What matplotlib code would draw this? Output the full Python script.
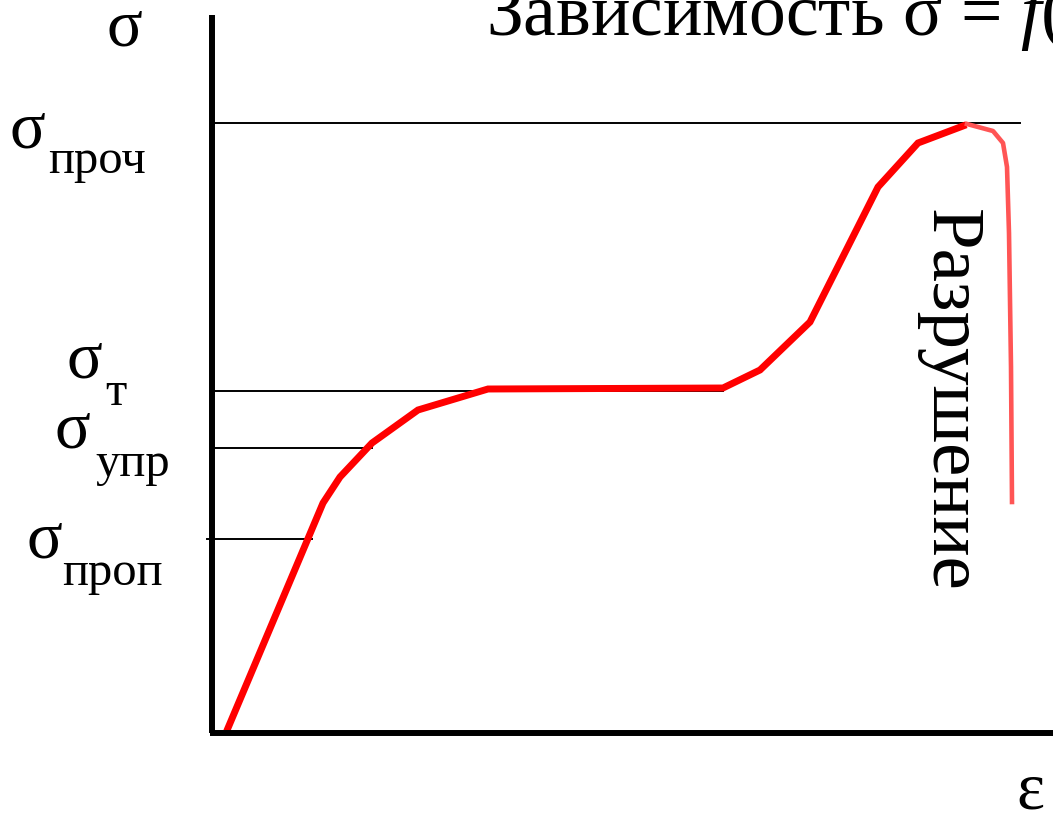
import matplotlib
matplotlib.use("Agg")
import matplotlib.pyplot as plt

# кривая растяжения (ε, σ) в условных единицах
eps = [16, 111, 128, 160, 206, 276, 511, 548, 598, 666, 706, 751]
sig = [5, 230, 256, 290, 323, 344, 345, 363, 411, 546, 590, 607]

# участок разрушения
eps_raz = [755, 781, 791, 795, 797, 799, 800]
sig_raz = [609, 602, 590, 566, 500, 366, 231]

# характерные напряжения и длины линий-выносок
urovni = [610, 342, 285, 194]
konec = [808, 511, 160, 100]
nachalo = [0, 0, 0, -5]

plt.rcParams['font.family'] = ['Liberation Serif', 'DejaVu Serif']
plt.rcParams['mathtext.fontset'] = 'custom'
plt.rcParams['mathtext.rm'] = 'Liberation Serif'
plt.rcParams['mathtext.it'] = 'Liberation Serif:italic'

fig = plt.figure(figsize=(10.53, 8.18), dpi=100)
ax = fig.add_axes([0, 0, 1, 1])
ax.set_xlim(-212, 841)
ax.set_ylim(-85, 733)

for s, x0, x1 in zip(urovni, nachalo, konec):
    ax.plot([x0, x1], [s, s], color='black', lw=1.4, zorder=1)

ax.plot(eps, sig, color='#ff0000', lw=5, solid_joinstyle='miter', zorder=3)
ax.plot(eps_raz, sig_raz, color='#ff5555', lw=3.3, zorder=3)

# оси
ax.plot([0, 0], [718, 0], color='black', lw=4.3, solid_capstyle='butt', zorder=4)
ax.plot([-2, 841], [0, 0], color='black', lw=4.3, solid_capstyle='butt', zorder=4)

for sp in ax.spines.values():
    sp.set_visible(False)
ax.set_xticks([])
ax.set_yticks([])

big = 48
small = 35
ax.text(-106, 688, 'σ', fontsize=big, ha='left', va='baseline')
ax.text(274, 698, 'Зависимость σ = $f$(ε)', fontsize=53, ha='left', va='baseline')

ax.text(-203, 586, 'σ', fontsize=big, ha='left', va='baseline')
ax.text(-164, 560, 'проч', fontsize=small, ha='left', va='baseline')

ax.text(-146, 356, 'σ', fontsize=big, ha='left', va='baseline')
ax.text(-107, 328, 'т', fontsize=small, ha='left', va='baseline')

ax.text(-158, 286, 'σ', fontsize=big, ha='left', va='baseline')
ax.text(-117, 257, 'упр', fontsize=small, ha='left', va='baseline')

ax.text(-186, 175, 'σ', fontsize=big, ha='left', va='baseline')
ax.text(-150, 148, 'проп', fontsize=small, ha='left', va='baseline')

ax.text(737, 333, 'Разрушение', fontsize=54, rotation=270,
        ha='center', va='center')
ax.text(818, -59, 'ε', fontsize=big, ha='center', va='center')

fig.savefig('out.png', dpi=100)
